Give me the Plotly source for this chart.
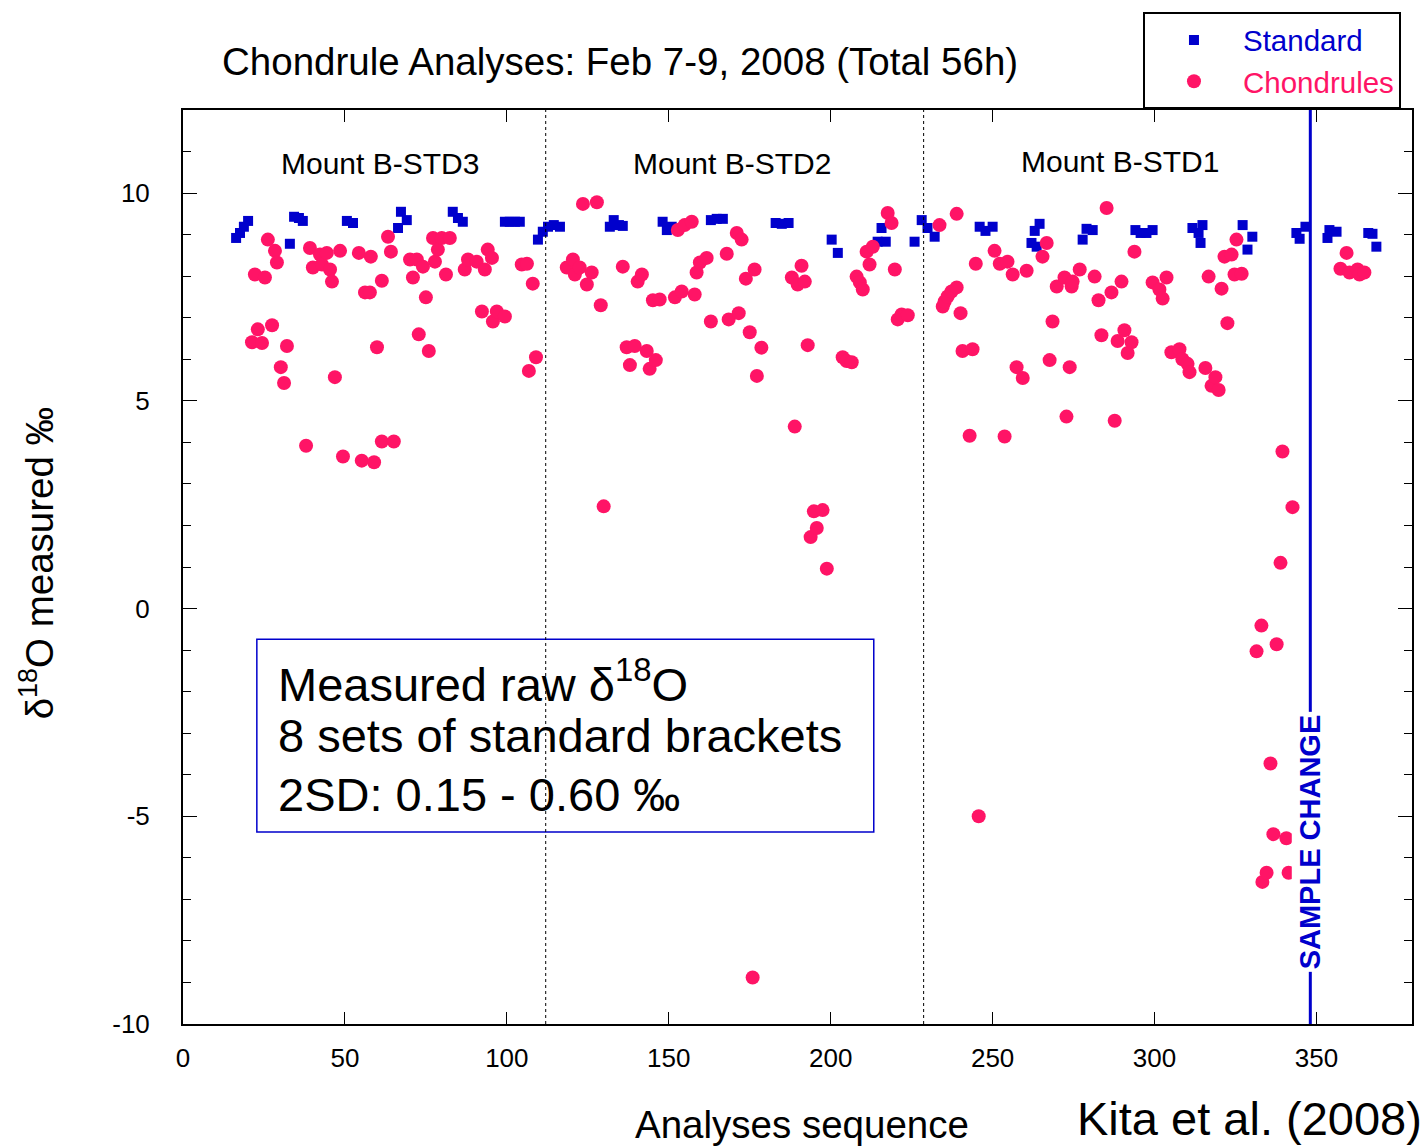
import plotly.graph_objects as go

# ---------------- data ----------------
std_x = [16.4, 17.6, 18.8, 20.1, 33.0, 34.3, 35.8, 37.0, 50.6, 52.5, 66.4, 67.3, 69.1,
         83.3, 84.9, 86.4, 99.4, 100.9, 102.5, 104.0, 109.6, 111.1, 112.7, 114.5, 116.4,
         131.8, 133.0, 134.6, 135.8, 148.1, 149.4, 150.9, 163.0, 164.8, 166.7, 183.0,
         184.9, 187.0, 200.3, 202.2, 214.5, 215.7, 217.0, 225.9, 228.1, 229.9, 232.1,
         246.0, 247.8, 250.0, 262.0, 263.0, 263.6, 264.5, 277.8, 279.0, 280.9, 294.1,
         295.7, 297.5, 299.4, 311.7, 313.6, 314.2, 314.8, 327.2, 328.7, 330.2, 343.8,
         344.8, 346.6, 353.4, 354.0, 356.2, 366.0, 367.3, 368.5]
std_y = [8.92, 9.04, 9.19, 9.33, 8.78, 9.43, 9.40, 9.33, 9.33, 9.28, 9.16, 9.55, 9.35,
         9.55, 9.40, 9.31, 9.31, 9.31, 9.31, 9.31, 8.88, 9.07, 9.19, 9.23, 9.19,
         9.19, 9.35, 9.23, 9.21, 9.31, 9.11, 9.19, 9.35, 9.38, 9.38, 9.28,
         9.26, 9.28, 8.88, 8.56, 8.83, 9.16, 8.83, 8.83, 9.35, 9.16, 8.95,
         9.19, 9.09, 9.19, 8.80, 9.09, 8.71, 9.26, 8.88, 9.14, 9.11, 9.11,
         9.04, 9.04, 9.11, 9.16, 9.04, 8.80, 9.23, 9.23, 8.64, 8.95, 9.04,
         8.90, 9.19, 8.92, 9.11, 9.07, 9.04, 9.02, 8.71]

chd_x = [21.3, 22.2, 23.1, 24.4, 25.3, 26.2, 27.5, 28.4, 29.0, 30.2, 31.2, 32.1, 38.0,
         39.2, 40.1, 42.3, 42.9, 44.4, 45.4, 46.0, 46.9, 48.5, 49.4, 54.3, 55.2, 56.2,
         57.7, 58.0, 59.0, 59.9, 61.4, 61.4, 63.3, 64.2, 65.1, 70.1, 71.0, 72.2, 72.8,
         74.1, 75.0, 75.9, 77.2, 77.8, 78.7, 79.9, 81.2, 82.4, 87.0, 88.0, 90.7, 92.3,
         93.2, 94.1, 95.4, 95.7, 96.9, 99.4, 104.6, 106.2, 106.8, 108.0, 109.0, 118.5,
         120.4, 121.0, 122.5, 123.5, 124.7, 126.2, 127.8, 129.0, 129.9, 135.8, 137.0,
         138.0, 139.5, 140.4, 141.7, 143.2, 144.1, 145.1, 146.0, 147.2, 151.9, 152.8,
         154.0, 154.9, 157.1, 158.0, 158.6, 159.6, 161.7, 163.0, 167.9, 168.5, 171.0,
         171.6, 172.5, 173.8, 175.0, 175.9, 176.5, 177.2, 178.6, 188.0, 188.9, 189.8,
         191.0, 192.0, 192.9, 193.8, 194.8, 195.7, 197.5, 198.8, 203.7, 204.9, 206.5,
         208.0, 209.0, 209.9, 211.1, 212.0, 213.0, 217.6, 218.8, 219.8, 220.7, 221.9,
         223.8, 233.6, 234.6, 235.2, 236.1, 237.3, 238.9, 238.9, 240.1, 240.7, 242.9,
         243.8, 244.8, 245.7, 250.6, 252.2, 253.7, 254.6, 256.2, 257.4, 259.3, 260.5,
         265.4, 266.7, 267.6, 268.5, 269.8, 272.2, 272.8, 273.8, 274.4, 274.7, 276.9,
         281.5, 282.7, 283.6, 285.2, 286.7, 287.7, 288.6, 289.8, 290.7, 291.7, 292.9,
         293.8, 299.4, 301.5, 302.5, 303.7, 305.2, 307.7, 308.6, 310.2, 310.8, 315.7,
         316.7, 317.6, 318.8, 319.8, 320.7, 321.6, 322.5, 323.8, 324.7, 325.3, 326.9,
         331.5, 333.0, 333.3, 334.6, 335.8, 336.7, 337.7, 338.9, 339.5, 340.7, 341.4,
         342.6, 357.4, 359.3, 360.2, 362.7, 363.3, 364.8]
chd_y = [6.41, 8.04, 6.72, 6.39, 7.97, 8.88, 6.82, 8.61, 8.33, 5.81, 5.43, 6.32, 3.92,
         8.68, 8.21, 8.52, 8.28, 8.56, 8.16, 7.87, 5.57, 8.61, 3.66, 8.56, 3.56, 7.61,
         7.61, 8.47, 3.52, 6.29, 7.89, 4.02, 8.95, 8.59, 4.02, 8.40, 7.97, 8.40, 6.60,
         8.23, 7.49, 6.20, 8.92, 8.35, 8.64, 8.92, 8.04, 8.92, 8.16, 8.40, 8.35, 7.15,
         8.16, 8.64, 8.44, 6.91, 7.15, 7.03, 8.28, 8.30, 5.72, 7.82, 6.05, 8.21,
         8.40, 8.04, 8.21, 9.74, 7.80, 8.09, 9.78, 7.30, 2.46, 8.23, 6.29,
         5.86, 6.32, 7.87, 8.04, 6.20, 5.77, 7.42, 5.98, 7.44, 7.49, 9.11,
         7.63, 9.23, 9.31, 7.56, 8.09, 8.33, 8.44, 6.91, 8.54, 6.96, 9.04,
         7.11, 8.88, 7.94, 6.65, -8.88, 8.16, 5.60, 6.28, 7.97, 4.38, 7.80,
         8.25, 7.87, 6.34, 1.72, 2.34, 1.94, 2.37, 0.96, 6.05, 5.96, 5.93,
         7.99, 7.85, 7.68, 8.59, 8.28, 8.71, 9.52, 9.28, 8.16, 6.96, 7.08,
         7.06, 9.23, 7.27, 7.39, 7.51, 7.63, 7.73, 9.50, 7.11, 6.20, 4.16,
         6.24, 8.30, -5.00, 8.61, 8.30, 4.14, 8.35, 8.04, 5.81, 5.55, 8.13,
         8.47, 8.80, 5.98, 6.91, 7.75, 7.97, 4.62, 5.81, 7.75, 7.87, 8.16,
         7.99, 7.42, 6.58, 9.64, 7.61, 4.52, 6.44, 7.87, 6.70, 6.15, 6.41,
         8.59, 7.85, 7.68, 7.46, 7.97, 6.17, 6.24, 6.00, 5.89, 5.69, 5.79,
         7.99, 5.36, 5.57, 5.26, 7.70, 8.47, 6.87, 8.52, 8.04, 8.88, 8.06,
         -1.03, -0.41, -6.58, -6.36, -3.73, -5.43, -0.86, 1.10, 3.78, -5.53, -6.36,
         2.44, 8.18, 8.56, 8.09, 8.16, 8.04, 8.09]

mount_labels = ["Mount B-STD3", "Mount B-STD2", "Mount B-STD1"]
mount_x = [60.8, 169.4, 289.2]
mount_y = [10.72, 10.72, 10.77]
mount_bounds = [112.0, 228.7]
sample_change_x = 348.1

box_lines = ["Measured raw δ<sup>18</sup>O", "8 sets of standard brackets", "2SD: 0.15 - 0.60 ‰"]
box_line_y = [-1.75, -3.05, -4.47]

x_ticks = [0, 50, 100, 150, 200, 250, 300, 350]
y_ticks = [-10, -5, 0, 5, 10]
y_tick_text = ["-10", "-5", "0", "5", "10"]

FONT = "Arial, 'Liberation Sans', sans-serif"
BLUE = "#0000CC"
PINK = "#FF1466"

fig = go.Figure()
fig.add_trace(go.Scatter(
    x=std_x, y=std_y, mode="markers", name=f'<span style="color:{BLUE}">Standard</span>',
    marker=dict(symbol="square", size=10, color=BLUE, line=dict(width=0))))
fig.add_trace(go.Scatter(
    x=chd_x, y=chd_y, mode="markers", name=f'<span style="color:{PINK}">Chondrules</span>',
    marker=dict(symbol="circle", size=14, color=PINK, line=dict(width=0))))

shapes = []
for bx in mount_bounds:
    shapes.append(dict(type="line", xref="x", yref="paper", x0=bx, x1=bx, y0=0, y1=1,
                       line=dict(color="black", width=1, dash="dot")))
shapes.append(dict(type="line", xref="x", yref="paper", x0=sample_change_x, x1=sample_change_x,
                   y0=0, y1=1, line=dict(color=BLUE, width=3)))
shapes.append(dict(type="rect", xref="x", yref="y", x0=22.8, x1=213.3, y0=-5.38, y1=-0.74,
                   line=dict(color=BLUE, width=1.5), fillcolor="white", layer="below"))

annotations = []
for lab, mx, my in zip(mount_labels, mount_x, mount_y):
    annotations.append(dict(x=mx, y=my, xref="x", yref="y", text=lab, showarrow=False,
                            xanchor="center", yanchor="middle",
                            font=dict(family=FONT, size=30, color="black")))
for line, ly in zip(box_lines, box_line_y):
    annotations.append(dict(x=28.6, y=ly, xref="x", yref="y", xanchor="left", yanchor="middle",
                            align="left", showarrow=False, text=line,
                            font=dict(family=FONT, size=47, color="black")))
annotations.append(dict(x=sample_change_x, y=-5.62, xref="x", yref="y", text="<b>SAMPLE CHANGE</b>",
                        textangle=-90, showarrow=False, bgcolor="white", borderpad=2,
                        xanchor="center", yanchor="middle",
                        font=dict(family=FONT, size=29, color=BLUE)))
annotations.append(dict(x=0.3556, y=1.0533, xref="paper", yref="paper", xanchor="center",
                        yanchor="middle",
                        text="Chondrule Analyses: Feb 7-9, 2008 (Total 56h)", showarrow=False,
                        font=dict(family=FONT, size=38.5, color="black")))
annotations.append(dict(x=0.504, y=-0.1098, xref="paper", yref="paper", text="Analyses sequence",
                        xanchor="center", yanchor="middle",
                        showarrow=False, font=dict(family=FONT, size=38.5, color="black")))
annotations.append(dict(x=-0.1188, y=0.504, xref="paper", yref="paper", textangle=-90,
                        xanchor="center", yanchor="middle",
                        text="δ<sup>18</sup>O measured ‰", showarrow=False,
                        font=dict(family=FONT, size=38.5, color="black")))
annotations.append(dict(x=1.0098, y=-0.1035, xref="paper", yref="paper", xanchor="right",
                        yanchor="middle",
                        text="Kita et al. (2008)", showarrow=False,
                        font=dict(family=FONT, size=47, color="black")))

fig.update_layout(
    width=1427, height=1146, autosize=False,
    margin=dict(l=183, r=15, t=104, b=122, pad=0),
    paper_bgcolor="white", plot_bgcolor="white",
    font=dict(family=FONT, color="black"),
    showlegend=True,
    legend=dict(x=0.7811, y=1.107, xanchor="left", yanchor="top",
                bordercolor="black", borderwidth=2, bgcolor="white",
                font=dict(family=FONT, size=29.5), itemwidth=88, tracegroupgap=0),
    shapes=shapes, annotations=annotations,
    xaxis=dict(range=[0, 379.5], tickvals=x_ticks, ticks="inside", ticklen=12, tickwidth=1,
               tickcolor="black", showline=True, linecolor="black", linewidth=2, mirror="ticks",
               showgrid=False, zeroline=False, tickfont=dict(family=FONT, size=26, color="black"),
               ticklabelstandoff=10),
    yaxis=dict(range=[-10, 12], tickvals=y_ticks, ticktext=y_tick_text, ticks="inside",
               ticklen=14, tickwidth=1,
               tickcolor="black", showline=True, linecolor="black", linewidth=2, mirror="ticks",
               showgrid=False, zeroline=False, tickfont=dict(family=FONT, size=26, color="black"),
               ticklabelstandoff=26,
               minor=dict(dtick=1, ticks="inside", ticklen=8, tickcolor="black", tickwidth=1,
                          showgrid=False)),
)

fig.write_html("out.html")
